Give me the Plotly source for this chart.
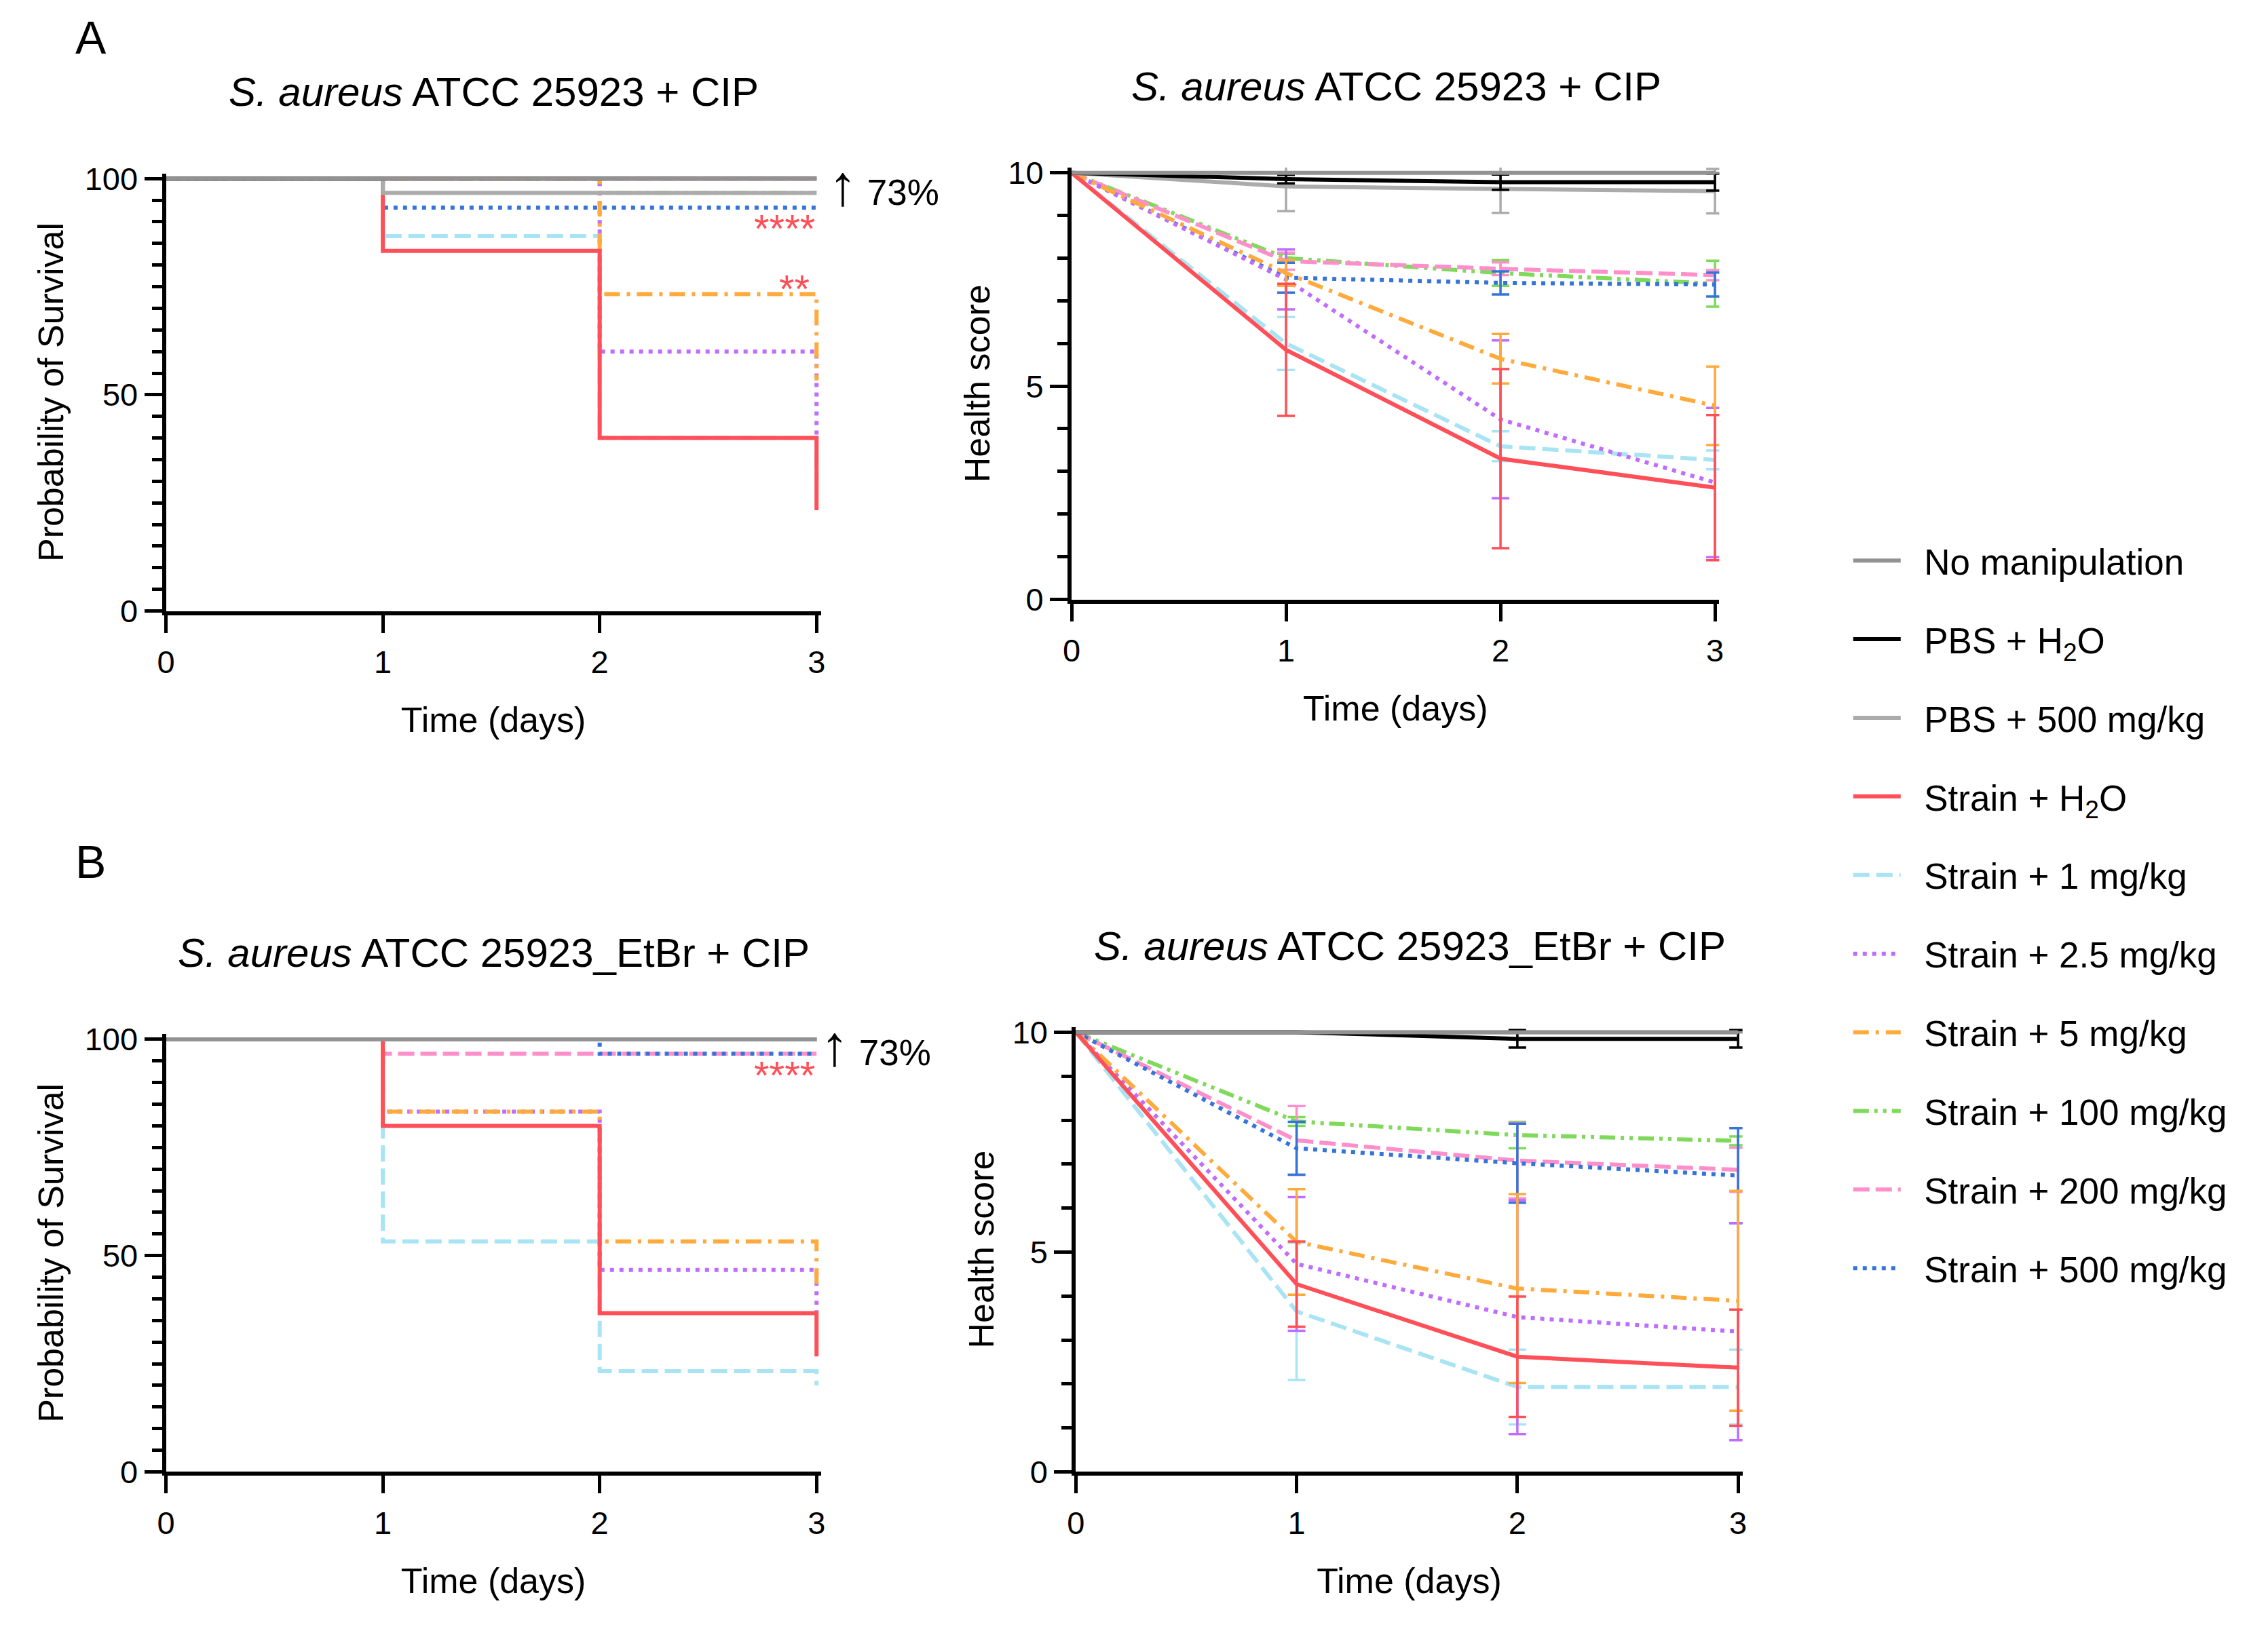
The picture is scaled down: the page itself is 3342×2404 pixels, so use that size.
import plotly.graph_objects as go

# ---------------- data ----------------
days = [0, 1, 2, 3]

series_names = [
    "No manipulation", "PBS + H<sub>2</sub>O", "PBS + 500 mg/kg",
    "Strain + H<sub>2</sub>O", "Strain + 1 mg/kg", "Strain + 2.5 mg/kg",
    "Strain + 5 mg/kg", "Strain + 100 mg/kg", "Strain + 200 mg/kg",
    "Strain + 500 mg/kg",
]

# Kaplan-Meier survival (%), panel A
surv_a = {
    "No manipulation": [100, 100, 100, 100],
    "PBS + H<sub>2</sub>O": [100, 100, 100, 100],
    "PBS + 500 mg/kg": [100, 96.7, 96.7, 96.7],
    "Strain + H<sub>2</sub>O": [100, 83.3, 40, 23.3],
    "Strain + 1 mg/kg": [100, 86.7, 40, 30],
    "Strain + 2.5 mg/kg": [100, 100, 60, 40],
    "Strain + 5 mg/kg": [100, 100, 73.3, 53.3],
    "Strain + 100 mg/kg": [100, 100, 96.7, 96.7],
    "Strain + 200 mg/kg": [100, 100, 100, 100],
    "Strain + 500 mg/kg": [100, 93.3, 93.3, 93.3],
}
# Kaplan-Meier survival (%), panel B
surv_b = {
    "No manipulation": [100, 100, 100, 100],
    "PBS + H<sub>2</sub>O": [100, 100, 100, 100],
    "PBS + 500 mg/kg": [100, 100, 100, 100],
    "Strain + H<sub>2</sub>O": [100, 80, 36.7, 26.7],
    "Strain + 1 mg/kg": [100, 53.3, 23.3, 20],
    "Strain + 2.5 mg/kg": [100, 83.3, 46.7, 36.7],
    "Strain + 5 mg/kg": [100, 83.3, 53.3, 43.3],
    "Strain + 100 mg/kg": [100, 100, 100, 100],
    "Strain + 200 mg/kg": [100, 96.7, 96.7, 96.7],
    "Strain + 500 mg/kg": [100, 100, 96.7, 96.7],
}

# Health score mean and error, panel A
health_a = {
    "No manipulation": [10, 10, 10, 10],
    "PBS + H<sub>2</sub>O": [10, 9.85, 9.78, 9.78],
    "PBS + 500 mg/kg": [10, 9.68, 9.62, 9.57],
    "Strain + H<sub>2</sub>O": [10, 5.85, 3.3, 2.62],
    "Strain + 1 mg/kg": [10, 6.0, 3.59, 3.27],
    "Strain + 2.5 mg/kg": [10, 7.5, 4.22, 2.74],
    "Strain + 5 mg/kg": [10, 7.65, 5.64, 4.54],
    "Strain + 100 mg/kg": [10, 8.0, 7.65, 7.4],
    "Strain + 200 mg/kg": [10, 7.93, 7.75, 7.6],
    "Strain + 500 mg/kg": [10, 7.54, 7.42, 7.38],
}
health_a_err = {
    "No manipulation": [0, 0, 0, 0],
    "PBS + H<sub>2</sub>O": [0, 0.1, 0.18, 0.2],
    "PBS + 500 mg/kg": [0, 0.58, 0.56, 0.52],
    "Strain + H<sub>2</sub>O": [0, 1.55, 2.1, 1.7],
    "Strain + 1 mg/kg": [0, 0.62, 0.35, 0.22],
    "Strain + 2.5 mg/kg": [0, 0.7, 1.85, 1.75],
    "Strain + 5 mg/kg": [0, 0.3, 0.58, 0.92],
    "Strain + 100 mg/kg": [0, 0.1, 0.3, 0.54],
    "Strain + 200 mg/kg": [0, 0.2, 0.15, 0.12],
    "Strain + 500 mg/kg": [0, 0.35, 0.27, 0.28],
}
# Health score mean and error, panel B
health_b = {
    "No manipulation": [10, 10, 10, 10],
    "PBS + H<sub>2</sub>O": [10, 10, 9.85, 9.85],
    "PBS + 500 mg/kg": [10, 10, 10, 10],
    "Strain + H<sub>2</sub>O": [10, 4.27, 2.62, 2.37],
    "Strain + 1 mg/kg": [10, 3.65, 1.93, 1.93],
    "Strain + 2.5 mg/kg": [10, 4.73, 3.52, 3.19],
    "Strain + 5 mg/kg": [10, 5.23, 4.17, 3.89],
    "Strain + 100 mg/kg": [10, 7.97, 7.66, 7.53],
    "Strain + 200 mg/kg": [10, 7.54, 7.08, 6.87],
    "Strain + 500 mg/kg": [10, 7.36, 7.02, 6.74],
}
health_b_err = {
    "No manipulation": [0, 0, 0, 0],
    "PBS + H<sub>2</sub>O": [0, 0, 0.2, 0.2],
    "PBS + 500 mg/kg": [0, 0, 0, 0],
    "Strain + H<sub>2</sub>O": [0, 0.97, 1.37, 1.32],
    "Strain + 1 mg/kg": [0, 1.56, 0.85, 0.85],
    "Strain + 2.5 mg/kg": [0, 1.52, 2.66, 2.47],
    "Strain + 5 mg/kg": [0, 1.2, 2.15, 2.5],
    "Strain + 100 mg/kg": [0, 0.1, 0.3, 0.1],
    "Strain + 200 mg/kg": [0, 0.78, 0.86, 0.5],
    "Strain + 500 mg/kg": [0, 0.6, 0.9, 1.08],
}

# ---------------- styles ----------------
colors = {
    "No manipulation": "#929292",
    "PBS + H<sub>2</sub>O": "#000000",
    "PBS + 500 mg/kg": "#ababab",
    "Strain + H<sub>2</sub>O": "#ff4f58",
    "Strain + 1 mg/kg": "#a8e4f4",
    "Strain + 2.5 mg/kg": "#c06cff",
    "Strain + 5 mg/kg": "#ffaa3c",
    "Strain + 100 mg/kg": "#7fd95a",
    "Strain + 200 mg/kg": "#ff8fcb",
    "Strain + 500 mg/kg": "#3574d8",
}
dashes = {
    "No manipulation": "solid",
    "PBS + H<sub>2</sub>O": "solid",
    "PBS + 500 mg/kg": "solid",
    "Strain + H<sub>2</sub>O": "solid",
    "Strain + 1 mg/kg": "24px,10px",
    "Strain + 2.5 mg/kg": "6px,8px",
    "Strain + 5 mg/kg": "23px,10px,5px,10px",
    "Strain + 100 mg/kg": "23px,8px,5px,8px,5px,8px",
    "Strain + 200 mg/kg": "24px,9px",
    "Strain + 500 mg/kg": "6px,8px",
}
widths = {n: 6 for n in series_names}

draw_order = [
    "Strain + 100 mg/kg", "Strain + 200 mg/kg", "Strain + 500 mg/kg",
    "Strain + 1 mg/kg", "Strain + 2.5 mg/kg", "Strain + 5 mg/kg",
    "Strain + H<sub>2</sub>O", "PBS + 500 mg/kg", "PBS + H<sub>2</sub>O",
    "No manipulation",
]

FONT = "Liberation Sans, Arial, Helvetica, sans-serif"
GAP = "&nbsp;&nbsp;"

fig = go.Figure()

# Survival panels (step curves)
for xa, ya, surv in [("x", "y", surv_a), ("x3", "y3", surv_b)]:
    for n in draw_order:
        fig.add_trace(go.Scatter(
            x=days, y=surv[n], mode="lines", line_shape="hv",
            line=dict(color=colors[n], width=widths[n], dash=dashes[n]),
            xaxis=xa, yaxis=ya, showlegend=False, name=n,
        ))

# Health score panels with error bars
for xa, ya, hs, he, leg in [("x2", "y2", health_a, health_a_err, True),
                            ("x4", "y4", health_b, health_b_err, False)]:
    for n in draw_order:
        fig.add_trace(go.Scatter(
            x=days, y=hs[n], mode="lines", name=GAP + n,
            line=dict(color=colors[n], width=widths[n], dash=dashes[n]),
            error_y=dict(type="data", array=he[n], visible=True,
                         color=colors[n], thickness=3.5, width=13),
            xaxis=xa, yaxis=ya, showlegend=leg,
            legendrank=series_names.index(n) + 1,
            legendgroup=n,
        ))

axis_common = dict(
    showline=True, linecolor="black", linewidth=6, ticks="outside",
    tickwidth=5, tickcolor="black", ticklen=26, showgrid=False, zeroline=False,
    tickfont=dict(family=FONT, size=47, color="black"),
    title_font=dict(family=FONT, size=52, color="black"),
)

x_common = dict(axis_common, range=[0, 3.02], tickvals=days, ticklabelstandoff=3,
                title=dict(text="Time (days)", standoff=44))

W, H = 3342, 2404
dom = {
    "tl": ([0.0673, 0.3578], [0.6297, 0.9031]),
    "tr": ([0.4690, 0.7563], [0.6369, 0.9067]),
    "bl": ([0.0673, 0.3578], [0.0918, 0.3653]),
    "br": ([0.4709, 0.7666], [0.0918, 0.3698]),
}

surv_y = dict(axis_common, range=[0, 101.2], tickvals=[0, 50, 100], ticklabelstandoff=0,
              minor=dict(dtick=5, ticks="outside", ticklen=15, tickwidth=5, tickcolor="black"),
              title=dict(text="Probability of Survival", standoff=17))
health_y = dict(axis_common, range=[0, 10.12], tickvals=[0, 5, 10], ticklabelstandoff=0,
                minor=dict(dtick=1, ticks="outside", ticklen=15, tickwidth=5, tickcolor="black"),
                title=dict(text="Health score", standoff=12))

fig.update_layout(
    width=W, height=H, margin=dict(l=0, r=0, t=0, b=0),
    paper_bgcolor="white", plot_bgcolor="white",
    font=dict(family=FONT, color="black"),
    xaxis=dict(x_common, domain=dom["tl"][0], anchor="y"),
    yaxis=dict(surv_y, domain=dom["tl"][1], anchor="x"),
    xaxis2=dict(x_common, domain=dom["tr"][0], anchor="y2"),
    yaxis2=dict(health_y, domain=dom["tr"][1], anchor="x2"),
    xaxis3=dict(x_common, domain=dom["bl"][0], anchor="y3"),
    yaxis3=dict(surv_y, domain=dom["bl"][1], anchor="x3"),
    xaxis4=dict(x_common, domain=dom["br"][0], anchor="y4"),
    yaxis4=dict(health_y, domain=dom["br"][1], anchor="x4"),
    legend=dict(
        x=0.8142, y=0.6786, xanchor="left", yanchor="top",
        font=dict(family=FONT, size=53, color="black"),
        traceorder="grouped", tracegroupgap=44, itemwidth=70,
        bgcolor="rgba(0,0,0,0)",
    ),
)

titles = [
    ("<i>S. aureus</i> ATCC 25923 + CIP", 0.2126, 0.9538),
    ("<i>S. aureus</i> ATCC 25923 + CIP", 0.6130, 0.9574),
    ("<i>S. aureus</i> ATCC 25923_EtBr + CIP", 0.2126, 0.4160),
    ("<i>S. aureus</i> ATCC 25923_EtBr + CIP", 0.6191, 0.4205),
]
for t, x, y in titles:
    fig.add_annotation(text=t, x=x, y=y, xref="paper", yref="paper",
                       xanchor="center", yanchor="middle", showarrow=False,
                       font=dict(family=FONT, size=60, color="black"))

for t, y in [("A", 0.9882), ("B", 0.4730)]:
    fig.add_annotation(text=t, x=0.0339, y=y, xref="paper", yref="paper",
                       xanchor="center", yanchor="middle", showarrow=False,
                       font=dict(family=FONT, size=68, color="black"))

# "↑ 73%" labels
arrow_txt = "<span style='font-size:84px'>↑</span> 73%"
fig.add_annotation(text=arrow_txt, x=3, y=98.5, xref="x", yref="y", xanchor="left",
                   yanchor="middle", xshift=16, showarrow=False,
                   font=dict(family=FONT, size=53, color="black"))
fig.add_annotation(text=arrow_txt, x=3, y=98.5, xref="x3", yref="y3", xanchor="left",
                   yanchor="middle", xshift=4, showarrow=False,
                   font=dict(family=FONT, size=53, color="black"))

# significance stars
sig = [("****", "x", "y", 89.7, 0), ("**", "x", "y", 75.8, -8), ("****", "x3", "y3", 93, 0)]
for t, xr, yr, yv, xs in sig:
    fig.add_annotation(text=t, x=3, y=yv, xref=xr, yref=yr, xanchor="right",
                       yanchor="middle", xshift=xs, yshift=-8, showarrow=False,
                       font=dict(family=FONT, size=58, color="#ff4f58"))

fig.write_html("out.html")
